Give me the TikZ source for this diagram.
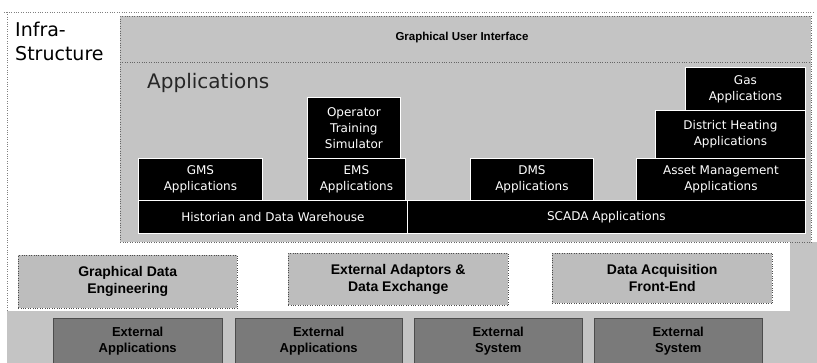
\documentclass[tikz,border=0pt]{standalone}
\usepackage{fontspec}
\setmainfont{Liberation Sans}
\newfontfamily\widesans{DejaVu Sans}
\usetikzlibrary{positioning}
\definecolor{panelgray}{HTML}{C4C4C4}
\definecolor{boxgray}{HTML}{BDBDBD}
\definecolor{darkgray}{HTML}{7A7A7A}
\tikzset{
  appbox/.style={draw=white,line width=0.8pt,fill=black,text=white,align=center,anchor=north west,inner sep=1pt,font=\widesans\fontsize{12}{16}\selectfont},
  layerbox/.style={draw=black!70,dotted,fill=boxgray,align=center,anchor=north west,font=\bfseries\fontsize{14}{17}\selectfont},
  extbox/.style={draw=black!70,fill=darkgray,text=black,align=center,anchor=north west,font=\bfseries\fontsize{13}{16}\selectfont},
}
\begin{document}
\begin{tikzpicture}[x=1pt,y=-1pt]
\useasboundingbox (0,0) rectangle (817,363);
% frame and backgrounds
\draw[black!50,dotted] (4,12)--(815,12);
\draw[black!50,dotted] (7,12)--(7,310);
\fill[panelgray] (790,242) rectangle (817,363);
\fill[panelgray] (7,311) rectangle (817,363);
\node[draw=black!60,dotted,fill=panelgray,anchor=north west,minimum width=691pt,minimum height=226pt,inner sep=0pt] (apps) at (120,16) {};
\draw[black!60,dotted] (120,62)--(811,62);
\node[font=\bfseries\fontsize{11.5}{13}\selectfont] (gui) at (462,38) {Graphical User Interface};
\node[anchor=north west,align=left,inner sep=0pt,font=\widesans\fontsize{19}{24}\selectfont] (infra) at (15,22) {Infra-\\Structure};
\node[anchor=west,inner sep=0pt,font=\widesans\fontsize{20}{24}\selectfont,text=black!85] (appstitle) at (147,83) {Applications};
% application blocks
\node[appbox,minimum width=93pt,minimum height=61pt] (ots) at (307,97) {Operator\\Training\\Simulator};
\node[appbox,minimum width=124pt,minimum height=42pt] (gms) at (138,158) {GMS\\Applications};
\node[appbox,minimum width=98pt,minimum height=42pt] (ems) at (307,158) {EMS\\Applications};
\node[appbox,minimum width=123pt,minimum height=42pt] (dms) at (470,158) {DMS\\Applications};
\node[appbox,minimum width=169pt,minimum height=42pt] (asset) at (636,158) {Asset Management\\Applications};
\node[appbox,minimum width=150pt,minimum height=48pt] (heat) at (655,110) {District Heating\\Applications};
\node[appbox,minimum width=120pt,minimum height=43pt] (gas) at (685,67) {Gas\\Applications};
\node[appbox,minimum width=269pt,minimum height=33pt] (hist) at (138,200) {Historian and Data Warehouse};
\node[appbox,minimum width=398pt,minimum height=33pt] (scada) at (407,200) {SCADA Applications};
% middle layer
\node[layerbox,minimum width=219pt,minimum height=53pt] (gde) at (18,255) {Graphical Data\\Engineering};
\node[layerbox,minimum width=220pt,minimum height=52pt] (ead) at (288,253) {External Adaptors \&\\Data Exchange};
\node[layerbox,minimum width=220pt,minimum height=50pt] (dafe) at (552,253) {Data Acquisition\\Front-End};
% external systems
\node[extbox,minimum width=169pt,minimum height=46pt] (exta) at (53,318) {External\\Applications};
\node[extbox,minimum width=167pt,minimum height=46pt] (extb) at (235,318) {External\\Applications};
\node[extbox,minimum width=168pt,minimum height=46pt] (extc) at (414,318) {External\\System};
\node[extbox,minimum width=168pt,minimum height=46pt] (extd) at (594,318) {External\\System};
\end{tikzpicture}
\end{document}
